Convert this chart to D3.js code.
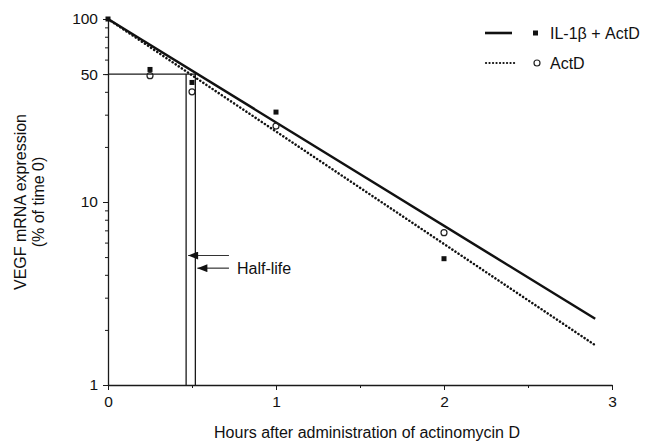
<!DOCTYPE html>
<html>
<head>
<meta charset="utf-8">
<script src="https://cdn.jsdelivr.net/npm/d3@7/dist/d3.min.js"></script>
<style>
  body { margin: 0; background: #fff; }
  text { font-family: "Liberation Sans", Arial, sans-serif; fill: #111; }
</style>
</head>
<body>
<svg id="chart"></svg>
<script>
// values
const times = [0, 0.25, 0.5, 1, 2]
const il1bActD = [100, 53, 45, 31, 4.9]
const actD = [100, 49, 40, 26, 6.8]

const fitTimes = [0, 2.9]
const il1bFit = [100, 2.3]
const actDFit = [100, 1.65]

const halfLives = [0.465, 0.52]   // ActD, IL-1b + ActD
const arrowLevels = [5.1, 4.35]
const arrowStart = 0.72

const xTicks = [0, 1, 2, 3]
const xMinor = [0.5, 1.5, 2.5]
const yTicks = [1, 10, 50, 100]
const yTickLabels = ['1', '10', '50', '100']

const width = 647, height = 443
const margin = { top: 19, right: 35, bottom: 58, left: 108 }

const svg = d3.select('#chart')
  .attr('width', width)
  .attr('height', height)

const x = d3.scaleLinear()
  .domain([0, 3])
  .range([margin.left, width - margin.right])

const y = d3.scaleLog()
  .domain([1, 100])
  .range([height - margin.bottom, margin.top])

const ink = '#1a1a1a'

// y axis, log minor ticks
const yMinor = d3.range(2, 10).concat(d3.range(20, 100, 10))
svg.append('g')
  .attr('transform', `translate(${x(0)},0)`)
  .call(d3.axisLeft(y).tickValues(yMinor).tickSize(3).tickFormat(''))
  .call(g => g.select('.domain').remove())
  .selectAll('line').attr('stroke', ink)

svg.append('g')
  .attr('transform', `translate(${x(0)},0)`)
  .call(d3.axisLeft(y).tickValues(yTicks).tickSize(5).tickPadding(5)
    .tickFormat((d, i) => yTickLabels[i]).tickSizeOuter(0))
  .call(g => g.select('.domain').attr('stroke', ink).attr('stroke-width', 1.3))
  .call(g => g.selectAll('line').attr('stroke', ink))
  .call(g => g.selectAll('text').attr('font-size', 15.5).attr('fill', '#111'))

// x axis
svg.append('g')
  .attr('transform', `translate(0,${y(1)})`)
  .call(d3.axisBottom(x).tickValues(xMinor).tickSize(3).tickFormat(''))
  .call(g => g.select('.domain').remove())
  .selectAll('line').attr('stroke', ink)

svg.append('g')
  .attr('transform', `translate(0,${y(1)})`)
  .call(d3.axisBottom(x).tickValues(xTicks).tickSize(5).tickPadding(6)
    .tickFormat(d3.format('d')).tickSizeOuter(0))
  .call(g => g.select('.domain').attr('stroke', ink).attr('stroke-width', 1.3))
  .call(g => g.selectAll('line').attr('stroke', ink))
  .call(g => g.selectAll('text').attr('font-size', 15.5).attr('fill', '#111'))

// axis titles
svg.append('text')
  .attr('x', 367)
  .attr('y', 438)
  .attr('text-anchor', 'middle')
  .attr('font-size', 16)
  .text('Hours after administration of actinomycin D')

const yMid = (y(1) + y(100)) / 2
svg.append('text')
  .attr('transform', `translate(26,${yMid}) rotate(-90)`)
  .attr('text-anchor', 'middle')
  .attr('font-size', 16)
  .text('VEGF mRNA expression')
svg.append('text')
  .attr('transform', `translate(44,${yMid}) rotate(-90)`)
  .attr('text-anchor', 'middle')
  .attr('font-size', 16)
  .text('(% of time 0)')

// half-life guides
svg.append('line')
  .attr('x1', x(0)).attr('x2', x(halfLives[1]))
  .attr('y1', y(50)).attr('y2', y(50))
  .attr('stroke', ink).attr('stroke-width', 1.3)

svg.selectAll('.half')
  .data(halfLives)
  .enter()
  .append('line')
    .attr('class', 'half')
    .attr('x1', d => x(d)).attr('x2', d => x(d))
    .attr('y1', y(50)).attr('y2', y(1))
    .attr('stroke', ink).attr('stroke-width', 1.3)

// fitted decay lines
const line = d3.line()
  .x(d => x(d[0]))
  .y(d => y(d[1]))

svg.append('path')
  .datum(d3.zip(fitTimes, il1bFit))
  .attr('d', line)
  .attr('fill', 'none')
  .attr('stroke', '#111')
  .attr('stroke-width', 2.5)

svg.append('path')
  .datum(d3.zip(fitTimes, actDFit))
  .attr('d', line)
  .attr('fill', 'none')
  .attr('stroke', '#111')
  .attr('stroke-width', 2.5)
  .attr('stroke-dasharray', '0.1,3.6')
  .attr('stroke-linecap', 'round')

// points
svg.selectAll('.sq')
  .data(d3.zip(times, il1bActD))
  .enter()
  .append('rect')
    .attr('class', 'sq')
    .attr('x', d => x(d[0]) - 2.5)
    .attr('y', d => y(d[1]) - 2.5)
    .attr('width', 5)
    .attr('height', 5)
    .attr('fill', '#111')

svg.selectAll('.ci')
  .data(d3.zip(times, actD).slice(1))
  .enter()
  .append('circle')
    .attr('class', 'ci')
    .attr('cx', d => x(d[0]))
    .attr('cy', d => y(d[1]))
    .attr('r', 3)
    .attr('fill', 'none')
    .attr('stroke', '#222')
    .attr('stroke-width', 1.2)

// arrows + label
svg.append('defs').append('marker')
  .attr('id', 'head')
  .attr('viewBox', '0 0 10 8')
  .attr('refX', 10).attr('refY', 4)
  .attr('markerWidth', 11).attr('markerHeight', 8)
  .attr('markerUnits', 'userSpaceOnUse')
  .attr('orient', 'auto')
  .append('path')
    .attr('d', 'M0,0L10,4L0,8Z')
    .attr('fill', '#111')

svg.selectAll('.arrow')
  .data(halfLives)
  .enter()
  .append('line')
    .attr('class', 'arrow')
    .attr('x1', x(arrowStart))
    .attr('x2', d => x(d) + 2)
    .attr('y1', (d, i) => y(arrowLevels[i]))
    .attr('y2', (d, i) => y(arrowLevels[i]))
    .attr('stroke', '#333')
    .attr('stroke-width', 1.2)
    .attr('marker-end', 'url(#head)')

svg.append('text')
  .attr('x', x(arrowStart) + 8)
  .attr('y', y(arrowLevels[1]) + 5.5)
  .attr('font-size', 16)
  .text('Half-life')

// legend
const legend = svg.append('g').attr('transform', 'translate(485,33)')

legend.append('line')
  .attr('x1', 0).attr('x2', 27).attr('y1', 0).attr('y2', 0)
  .attr('stroke', '#111').attr('stroke-width', 2.6)
legend.append('rect')
  .attr('x', 48).attr('y', -2.5).attr('width', 5).attr('height', 5)
  .attr('fill', '#111')
legend.append('text')
  .attr('x', 65).attr('y', 5.5)
  .attr('font-size', 16)
  .text('IL-1β + ActD')

legend.append('line')
  .attr('x1', 1).attr('x2', 30).attr('y1', 30).attr('y2', 30)
  .attr('stroke', '#111').attr('stroke-width', 2.2)
  .attr('stroke-dasharray', '0.1,3.4')
  .attr('stroke-linecap', 'round')
legend.append('circle')
  .attr('cx', 52).attr('cy', 30).attr('r', 3)
  .attr('fill', 'none').attr('stroke', '#222').attr('stroke-width', 1.2)
legend.append('text')
  .attr('x', 65).attr('y', 35.5)
  .attr('font-size', 16)
  .text('ActD')
</script>
</body>
</html>
